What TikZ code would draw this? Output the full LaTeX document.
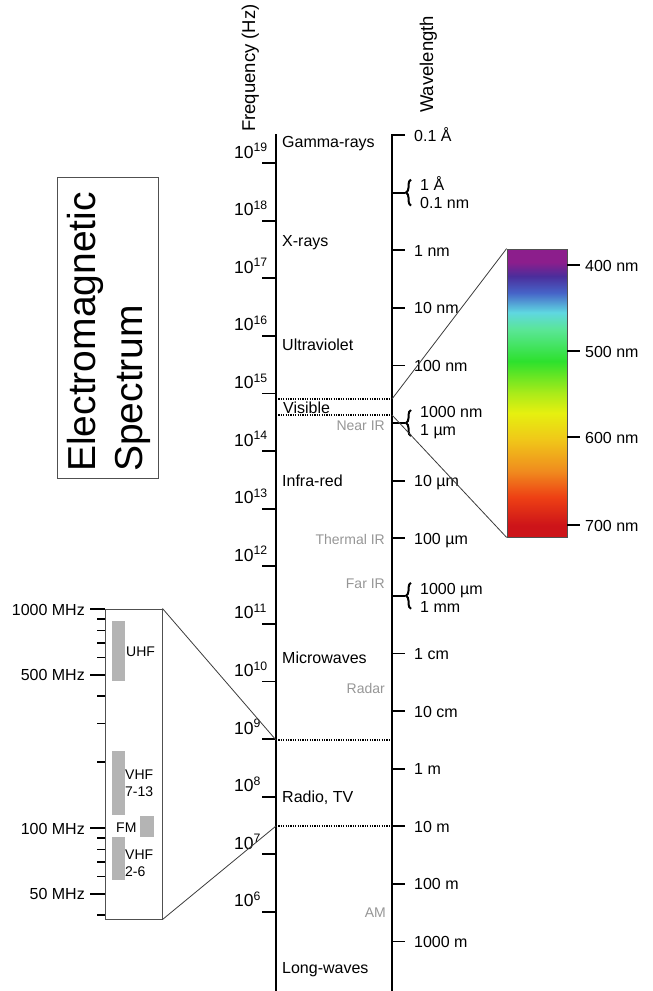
\documentclass[tikz,border=0pt]{standalone}
\usepackage{fontspec}
\setmainfont{Liberation Sans}
\usetikzlibrary{decorations.pathreplacing}
\definecolor{subgrey}{RGB}{150,150,150}
\definecolor{bargrey}{RGB}{180,180,180}
\definecolor{boxgrey}{RGB}{80,80,80}
\definecolor{linegrey}{RGB}{60,60,60}
\definecolor{specpurple}{RGB}{140,30,140}
\definecolor{specindigo}{RGB}{75,45,155}
\definecolor{specblue}{RGB}{70,100,200}
\definecolor{speccyan}{RGB}{95,215,225}
\definecolor{specmint}{RGB}{90,230,150}
\definecolor{specgreen}{RGB}{45,225,45}
\definecolor{speclime}{RGB}{170,235,25}
\definecolor{specyellow}{RGB}{230,240,15}
\definecolor{specgold}{RGB}{240,200,25}
\definecolor{specorange}{RGB}{240,140,30}
\definecolor{specredor}{RGB}{238,65,20}
\definecolor{specred}{RGB}{205,20,25}
\pgfdeclareverticalshading{rainbow}{100bp}{color(0bp)=(specred); color(27bp)=(specred);
  color(32bp)=(specredor); color(36.5bp)=(specorange); color(42bp)=(specgold);
  color(46.5bp)=(specyellow); color(50bp)=(speclime); color(55.5bp)=(specgreen);
  color(61bp)=(specmint); color(64bp)=(speccyan); color(67.4bp)=(specblue);
  color(70.3bp)=(specindigo); color(72.7bp)=(specpurple); color(100bp)=(specpurple)}
\tikzstyle{spine}=[line width=1.8pt]
\tikzstyle{tickmark}=[line width=1.8pt]
\tikzstyle{minortick}=[line width=1.4pt]
\tikzstyle{bandline}=[line width=1.2pt, dash pattern=on 1.2pt off 1.2pt]
\tikzstyle{zoomline}=[line width=0.8pt, draw=linegrey]
\tikzstyle{curly}=[line width=2pt, decorate, decoration={brace, amplitude=5pt}]
\tikzstyle{txt}=[inner sep=0pt, font=\fontsize{16}{19}\selectfont]
\tikzstyle{dec}=[inner sep=0pt, anchor=base west, font=\fontsize{17.5}{20}\selectfont]
\tikzstyle{band}=[txt, anchor=base west]
\tikzstyle{wl}=[txt, anchor=base west]
\tikzstyle{mhz}=[txt, anchor=base east]
\tikzstyle{pair}=[inner sep=0pt, anchor=west, align=left, font=\fontsize{16}{18}\selectfont]
\tikzstyle{sub}=[inner sep=0pt, anchor=base east, text=subgrey, font=\fontsize{14}{17}\selectfont]
\tikzstyle{tv}=[inner sep=0pt, align=left, font=\fontsize{14}{17}\selectfont]
\tikzstyle{bar}=[fill=bargrey]
\tikzstyle{axtitle}=[rotate=90, anchor=base west, inner sep=0pt, font=\fontsize{18.5}{22}\selectfont]
\tikzstyle{titlebox}=[draw=boxgrey, line width=1pt, minimum width=101pt, minimum height=301pt, inner sep=0pt]
\tikzstyle{titletext}=[rotate=90, inner sep=0pt, align=left, font=\fontsize{39}{47}\selectfont]
\tikzstyle{specbox}=[draw=boxgrey, line width=0.8pt, shade, shading=rainbow, minimum width=60pt, minimum height=288pt, inner sep=0pt]
\tikzstyle{radiobox}=[draw=boxgrey, line width=1pt, minimum width=57pt, minimum height=310pt, inner sep=0pt]

\begin{document}
\begin{tikzpicture}[x=1pt, y=-1pt]
	\useasboundingbox (0,0) rectangle (653,991);
	%
	\node[titlebox] (title) at (107.5,327.5) {};
	\node[titletext] (titletxt) at (108.5,332) {Electromagnetic\\Spectrum};
	\draw (255,132) node[axtitle] (freq) {Frequency (Hz)};
	\draw (433,113) node[axtitle] (wave) {Wavelength};
	%
	\draw[spine] (276,134) -- (276,991);
	\draw[spine] (405,135) -- (392,135) -- (392,991);
	\draw (414,141) node[wl] (w0) {0.1 Å};
	%
	\foreach \n [count=\i from 0] in {19,18,...,6} {
		\pgfmathsetmacro{\ty}{163+57.6*\i}
		\draw[tickmark] (262,\ty) -- (276,\ty);
		\draw (234,\ty-5) node[dec] (f\n) {10\textsuperscript{\n}};
	}
	\foreach \k/\wl in {2/1 nm, 3/10 nm, 4/100 nm, 6/10 µm, 7/100 µm, 9/1 cm, 10/10 cm, 11/1 m, 12/10 m, 13/100 m, 14/1000 m} {
		\pgfmathsetmacro{\ty}{135+57.6*\k}
		\draw[tickmark] (392,\ty) -- (405,\ty);
		\draw (414,\ty+6) node[wl] (w\k) {\wl};
	}
	\foreach \k/\hi/\lo/\dy in {1/1 Å/0.1 nm/0, 5/1000 nm/1 µm/0, 8/1000 µm/1 mm/2} {
		\pgfmathsetmacro{\ty}{135+57.6*\k}
		\draw[tickmark] (392,\ty) -- (405,\ty);
		\draw[curly] (411,\ty+13) -- (411,\ty-13);
		\draw (420,\ty+\dy) node[pair] (w\k) {\hi\\\lo};
	}
	%
	\coordinate (vtopf) at (276,399);
	\coordinate (vtopw) at (392,399);
	\coordinate (vbotf) at (276,415);
	\coordinate (vbotw) at (392,415);
	\coordinate (rtopf) at (276,740);
	\coordinate (rtopw) at (392,740);
	\coordinate (rbotf) at (276,826);
	\coordinate (rbotw) at (392,826);
	\draw[bandline] (vtopf) -- (vtopw);
	\draw[bandline] (vbotf) -- (vbotw);
	\draw[bandline] (rtopf) -- (rtopw);
	\draw[bandline] (rbotf) -- (rbotw);
	%
	\draw (282,147) node[band] (gamma) {Gamma-rays};
	\draw (282,246) node[band] (xray) {X-rays};
	\draw (282,350) node[band] (uv) {Ultraviolet};
	\draw (283,413) node[band] (vis) {Visible};
	\draw (282,486) node[band] (ir) {Infra-red};
	\draw (282,663) node[band] (micro) {Microwaves};
	\draw (282,802) node[band] (radio) {Radio, TV};
	\draw (282,973) node[band] (long) {Long-waves};
	%
	\draw (385,430) node[sub] (nearir) {Near IR};
	\draw (385,544) node[sub] (thermir) {Thermal IR};
	\draw (385,588) node[sub] (farir) {Far IR};
	\draw (385,693) node[sub] (radar) {Radar};
	\draw (386,917) node[sub] (am) {AM};
	%
	\node[specbox] (spec) at (537,393) {};
	\draw[zoomline] (spec.north west) -- (vtopw);
	\draw[zoomline] (spec.south west) -- (vbotw);
	\foreach \nm/\ty in {400/265, 500/351, 600/437, 700/525} {
		\draw[tickmark] (567,\ty) -- (580,\ty);
		\draw (585,\ty+6) node[wl] (s\nm) {\nm\ nm};
	}
	%
	\node[radiobox] (tvbox) at (133.5,764) {};
	\draw[zoomline] (tvbox.north east) -- (rtopf);
	\draw[zoomline] (tvbox.south east) -- (rbotf);
	\foreach \f in {900,800,700,600,400,300,200,90,80,70,60,40} {
		\pgfmathsetmacro{\ty}{609+219*(3-log10(\f))}
		\draw[minortick] (97,\ty) -- (105,\ty);
	}
	\foreach \f in {1000,500,100,50} {
		\pgfmathsetmacro{\ty}{609+219*(3-log10(\f))}
		\draw[minortick] (90,\ty) -- (105,\ty);
		\draw (85,\ty+6) node[mhz] (m\f) {\f\ MHz};
	}
	\fill[bar] (112,621) rectangle (125,681);
	\fill[bar] (112,751) rectangle (125,815);
	\fill[bar] (140,816) rectangle (154,837);
	\fill[bar] (112,837) rectangle (125,880);
	\draw (126,656) node[tv, anchor=base west] (uhf) {UHF};
	\draw (125,783) node[tv, anchor=west] (vhfhi) {VHF\\7-13};
	\draw (116,832) node[tv, anchor=base west] (fm) {FM};
	\draw (125,863) node[tv, anchor=west] (vhflo) {VHF\\2-6};
\end{tikzpicture}
\end{document}
